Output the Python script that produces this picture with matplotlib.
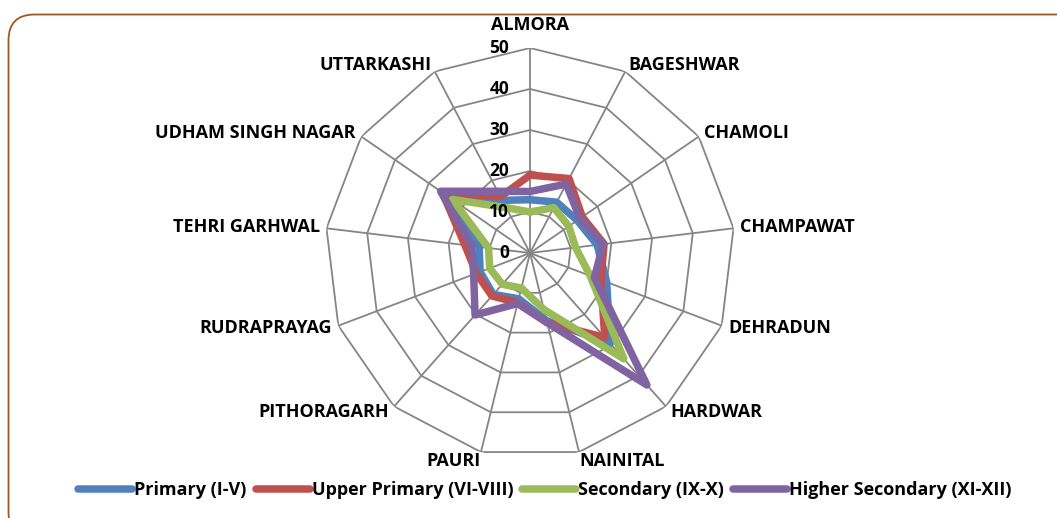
import numpy as np
import matplotlib
matplotlib.use("Agg")
import matplotlib.pyplot as plt
from matplotlib.patches import FancyBboxPatch
from matplotlib.transforms import IdentityTransform

plt.rcParams['font.family'] = ['Open Sans', 'DejaVu Sans']

districts = ["ALMORA", "BAGESHWAR", "CHAMOLI", "CHAMPAWAT", "DEHRADUN", "HARDWAR",
             "NAINITAL", "PAURI", "PITHORAGARH", "RUDRAPRAYAG", "TEHRI GARHWAL",
             "UDHAM SINGH NAGAR", "UTTARKASHI"]
primary =          [13.0, 14.0, 14.0, 16.5, 20.0, 29.5, 17.0, 11.5, 13.5, 13.0, 12.5, 24.5, 14.5]
upper_primary =    [19.0, 20.5, 15.5, 18.2, 18.5, 27.5, 17.5, 12.5, 14.0, 14.0, 16.0, 26.0, 15.5]
secondary =        [10.0, 12.5, 11.5, 11.2, 15.7, 34.5, 14.2,  8.8, 10.2, 10.5, 10.2, 23.0, 12.5]
higher_secondary = [15.0, 19.0, 14.8, 18.0, 16.8, 43.0, 17.5, 12.7, 20.2, 14.7, 14.3, 26.5, 17.0]
series_names = ["Primary (I-V)", "Upper Primary (VI-VIII)", "Secondary (IX-X)", "Higher Secondary (XI-XII)"]
colors = ["#4F81BD", "#C0504D", "#9BBB59", "#8064A2"]
rticks = [0, 10, 20, 30, 40, 50]

W, H, DPI = 1057, 518, 100
fig = plt.figure(figsize=(W / DPI, H / DPI), dpi=DPI)

# border (rounded rectangle, extends past right/bottom edges)
border = FancyBboxPatch((8.5, -20), 1100, H - 14.5 + 20,
                        boxstyle="round,pad=0,rounding_size=26",
                        transform=IdentityTransform(), fill=False,
                        edgecolor="#9C5A1C", linewidth=1.3, clip_on=False)
fig.patches.append(border)

cx, cy, R = 530, 253, 205
ax = fig.add_axes([(cx - R) / W, 1 - (cy + R) / H, 2 * R / W, 2 * R / H], projection='polar')
ax.set_theta_zero_location('N')
ax.set_theta_direction(-1)
ax.set_ylim(0, rticks[-1])
ax.grid(False)
ax.set_xticks([])
ax.set_yticks([])
ax.spines['polar'].set_visible(False)
ax.patch.set_alpha(0)

n = len(districts)
theta = np.arange(n) * 2 * np.pi / n
theta_c = np.append(theta, theta[0])

grid_col = "#858585"
for r in rticks[1:]:
    ax.plot(theta_c, [r] * (n + 1), color=grid_col, lw=1.3, zorder=1)
for t in theta:
    ax.plot([t, t], [0, rticks[-1]], color=grid_col, lw=1.3, zorder=1)

for vals, name, col in zip([primary, upper_primary, secondary, higher_secondary], series_names, colors):
    v = np.append(vals, vals[0])
    ax.plot(theta_c, v, color=col, lw=5.4, label=name, zorder=3,
            solid_joinstyle='round', solid_capstyle='round')

# radial labels
for r in rticks:
    ax.annotate(str(r), xy=(0, r), xytext=(-15, 0), textcoords='offset points',
                ha='right', va='center', fontsize=12.5, fontweight='bold', annotation_clip=False)

# category labels
for t, name in zip(theta, districts):
    s, c = np.sin(t), np.cos(t)
    if abs(s) < 0.1:
        ha = 'center'
    else:
        ha = 'left' if s > 0 else 'right'
    if c > 0.95:
        va = 'bottom'
        pad = 10
    elif c < -0.95:
        va = 'top'
        pad = 0
    else:
        va = 'center'
        pad = 5
    ax.annotate(name, xy=(t, rticks[-1]), xytext=(pad * s, pad * c), textcoords='offset points',
                ha=ha, va=va, fontsize=13, fontweight='bold', annotation_clip=False)

handles, labels = ax.get_legend_handles_labels()
fig.legend(handles, labels, loc='center', bbox_to_anchor=(545 / W, 1 - 490 / H), ncol=4,
           frameon=False, prop={'weight': 'bold', 'size': 13}, handlelength=3.0,
           handletextpad=0.1, columnspacing=0.5)

fig.savefig("out.png", dpi=DPI)
